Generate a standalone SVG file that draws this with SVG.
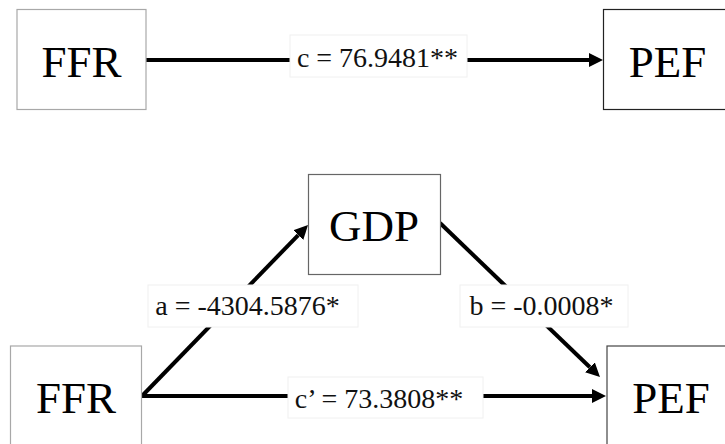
<svg xmlns="http://www.w3.org/2000/svg" width="725" height="444" viewBox="0 0 725 444" font-family="'Liberation Serif', 'Times New Roman', serif">
<defs>
<style>
.box{fill:#fff;stroke-width:1.2}
.node{font-family:'Liberation Serif','Times New Roman',serif;font-size:45px;fill:#000;text-anchor:middle}
.lbl{font-family:'Liberation Serif','Times New Roman',serif;font-size:28px;fill:#111;text-anchor:middle}
.lblbox{fill:#fff;stroke:#f0f0f0;stroke-width:1}
.edge{stroke:#000;stroke-width:4;fill:none}
</style>
<marker id="arr" markerUnits="userSpaceOnUse" markerWidth="14" markerHeight="14" refX="0" refY="7" orient="auto">
<path d="M0,0 L14,7 L0,14 z" fill="#000"/>
</marker>
</defs>
<rect width="725" height="444" fill="#fff"/>
<g id="connectors">
<line class="edge" x1="146" y1="60" x2="589" y2="60" marker-end="url(#arr)"/>
<line class="edge" x1="142" y1="396" x2="592" y2="396" marker-end="url(#arr)"/>
<line class="edge" x1="142" y1="396" x2="298.25" y2="235.05" marker-end="url(#arr)"/>
<line class="edge" x1="440" y1="223" x2="589.9" y2="367.3" marker-end="url(#arr)"/>
<rect class="lblbox" x="290" y="35" width="177" height="42"/>
<text class="lbl" x="377.5" y="67">c = 76.9481**</text>
<rect class="lblbox" x="288" y="377" width="195" height="41"/>
<text class="lbl" x="379" y="408">c’ = 73.3808**</text>
<rect class="lblbox" x="148" y="285" width="210" height="42"/>
<text class="lbl" x="247.5" y="315">a = -4304.5876*</text>
<rect class="lblbox" x="460" y="285" width="168" height="42"/>
<text class="lbl" x="541.5" y="315">b = -0.0008*</text>
</g>
<g id="ffr-top">
<rect class="box" x="17" y="9.5" width="129" height="100" stroke="#a8a8a8"/>
<text class="node" x="81.5" y="77">FFR</text>
</g>
<g id="pef-top">
<rect class="box" x="603.5" y="9.5" width="130" height="100" stroke="#222"/>
<text class="node" x="667.5" y="77">PEF</text>
</g>
<g id="gdp">
<rect class="box" x="308.5" y="174.5" width="132" height="100" stroke="#666"/>
<text class="node" x="374" y="241">GDP</text>
</g>
<g id="ffr-bottom">
<rect class="box" x="10.5" y="346" width="131" height="100" stroke="#a8a8a8"/>
<text class="node" x="76" y="413">FFR</text>
</g>
<g id="pef-bottom">
<rect class="box" x="607" y="346" width="130" height="100" stroke="#444"/>
<text class="node" x="671" y="413">PEF</text>
</g>
</svg>
